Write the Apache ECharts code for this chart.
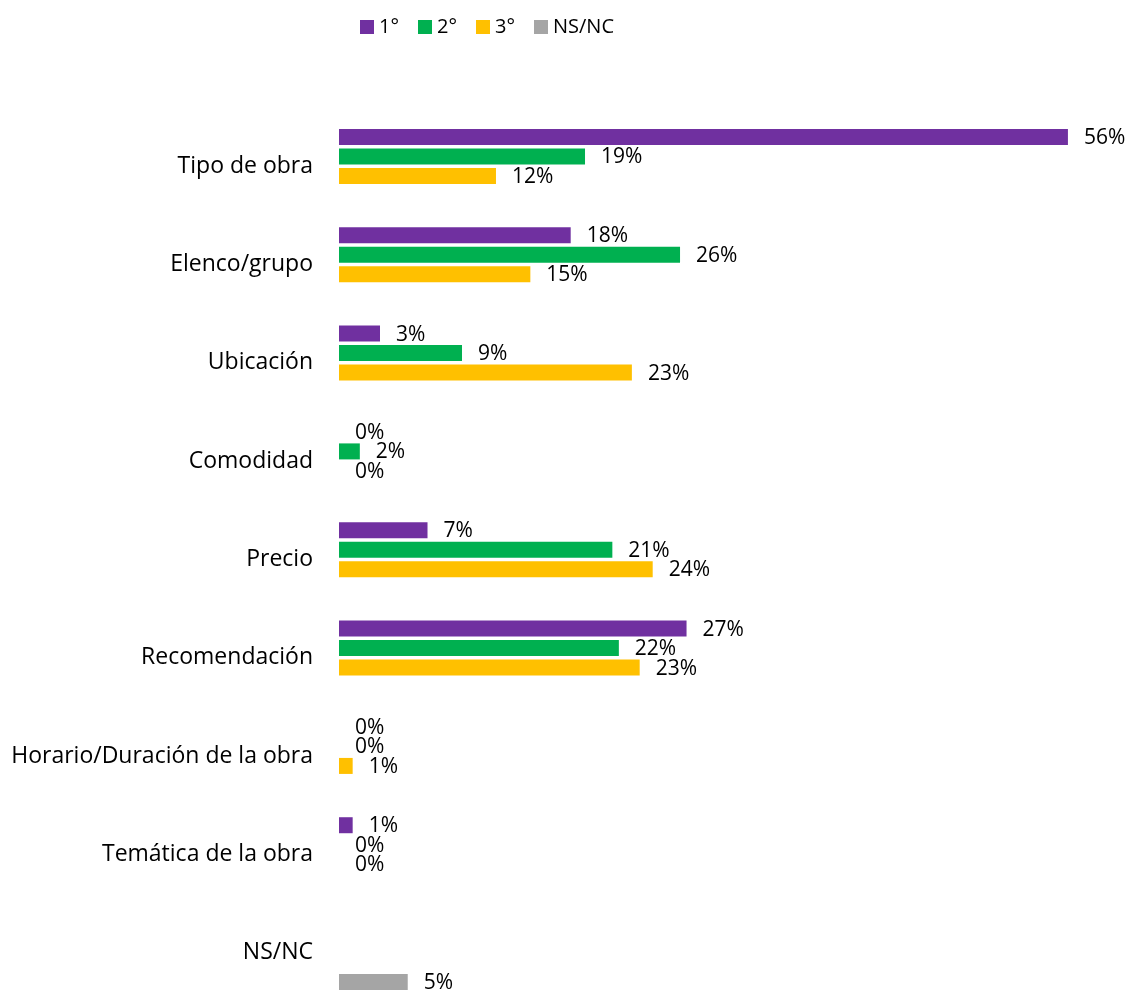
<!DOCTYPE html>
<html>
<head>
<meta charset="utf-8">
<script src="https://cdn.jsdelivr.net/npm/echarts@6/dist/echarts.min.js"></script>
<style>
html,body{margin:0;padding:0;background:#fff;overflow:hidden;}
#wrap{width:1127px;height:994px;overflow:hidden;position:relative;}
#chart{width:1127px;height:1012px;}
</style>
</head>
<body>
<div id="wrap"><div id="chart"></div></div>
<script>
const categories = ["Tipo de obra", "Elenco/grupo", "Ubicación", "Comodidad", "Precio", "Recomendación", "Horario/Duración de la obra", "Temática de la obra", "NS/NC"];
const seriesNames = ["1°", "2°", "3°", "NS/NC"];
const first  = [56.0, 17.8, 3.15, 0, 6.8, 26.7, 0, 1.05, null];
const second = [18.9, 26.2, 9.45, 1.6, 21.0, 21.5, 0, 0, null];
const third  = [12.06, 14.7, 22.5, 0, 24.1, 23.1, 1.05, 0, null];
const nsnc   = [null, null, null, null, null, null, null, null, 5.28];
const colors = ["#7030A0", "#00B050", "#FFC000", "#A5A5A5"];

const FONT = "'Open Sans', sans-serif";
const chart = echarts.init(document.getElementById('chart'));
const dataSets = [first, second, third, nsnc];

chart.setOption({
  animation: false,
  legend: {
    data: seriesNames,
    left: 355,
    top: 12,
    itemWidth: 14,
    itemHeight: 14,
    itemGap: 19,
    icon: 'rect',
    textStyle: { fontFamily: FONT, fontSize: 20, color: '#000' }
  },
  grid: { left: 339, top: 117, width: 781, height: 885 },
  xAxis: {
    type: 'value', min: 0, max: 60, show: false
  },
  yAxis: {
    type: 'category',
    data: categories,
    inverse: true,
    axisLine: { show: false },
    axisTick: { show: false },
    splitLine: { show: false },
    axisLabel: { fontFamily: FONT, fontSize: 23, color: '#000', margin: 26, padding: [3, 0, 0, 0] }
  },
  series: dataSets.map((d, i) => ({
    name: seriesNames[i],
    type: 'bar',
    data: d,
    barWidth: 16,
    barGap: '22%',
    itemStyle: { color: colors[i] },
    label: {
      show: true,
      position: 'right',
      distance: 16,
      fontFamily: FONT,
      fontSize: 21,
      color: '#000',
      offset: [0, 1],
      formatter: p => (p.value == null ? '' : Math.round(p.value) + '%')
    }
  }))
});
</script>
</body>
</html>
